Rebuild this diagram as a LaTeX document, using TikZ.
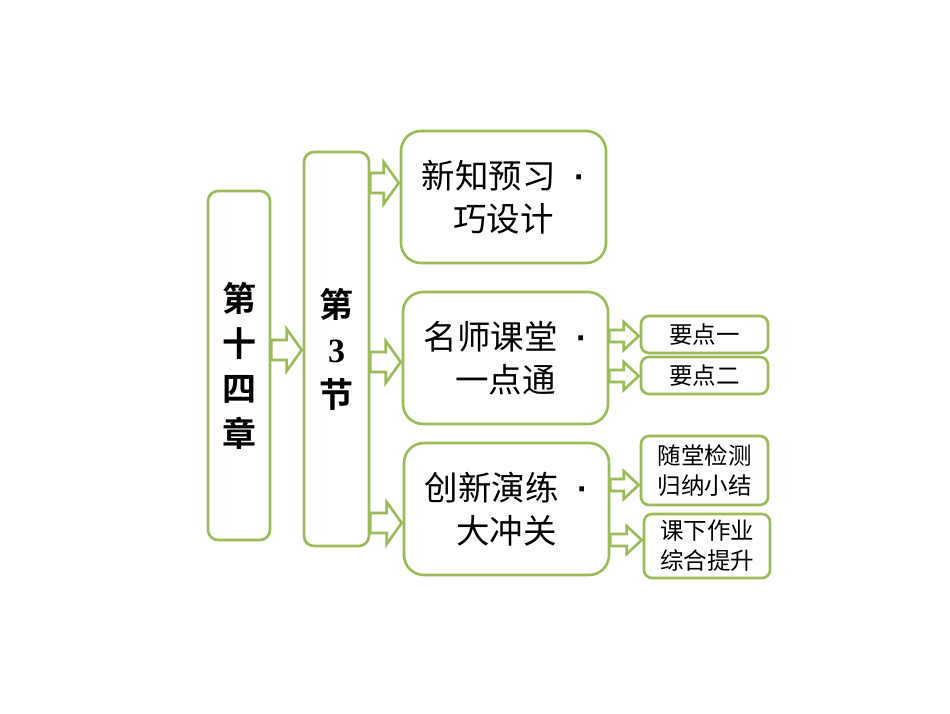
\documentclass[tikz,border=0pt]{standalone}
\usepackage{fontspec}
\setmainfont{Noto Sans CJK SC}
\newfontfamily\cjkb{Noto Sans CJK SC Bold}
\newfontfamily\serifb{Liberation Serif}
\newfontfamily\latin{Liberation Sans}
\usetikzlibrary{calc}
\definecolor{lg}{HTML}{9BBB59}
\newcommand{\barrow}[6]{%
 \draw[arrowsty] let \p1=(#1.east), \p2=(#2.west), \n1={(713-#3)*1pt} in
 (\x1,\n1+#5) -- (\x2-#6,\n1+#5) -- (\x2-#6,\n1+#4) -- (\x2-1pt,\n1) --
 (\x2-#6,\n1-#4) -- (\x2-#6,\n1-#5) -- (\x1,\n1-#5) -- cycle;}
\newcommand{\mdot}{{\latin\ \ \bfseries ·}}
\begin{document}
\begin{tikzpicture}[x=1pt,y=1pt,
  box/.style={draw=lg, line width=2.6pt, fill=white, align=center, inner sep=0pt},
  tall/.style={box, rounded corners=10pt, font=\cjkb\fontsize{34}{45}\selectfont},
  big/.style={box, rounded corners=20pt, minimum width=205pt, minimum height=132pt, font=\fontsize{33.5}{43}\selectfont},
  small/.style={box, rounded corners=8pt, minimum width=127pt, font=\fontsize{23.5}{30}\selectfont},
  arrowsty/.style={draw=lg, line width=2.6pt, fill=white, line join=miter}]
\useasboundingbox (0,0) rectangle (950,713);
\fill[white] (0,0) rectangle (950,713);
\node[tall, minimum width=62pt, minimum height=349pt] (n14) at (239,347.5) {第\\十\\四\\章};
\node[tall, minimum width=65pt, minimum height=394pt] (n3) at (336.5,364) {第\\{\serifb\bfseries 3}\\节};
\node[big] (xz) at (503.5,516) {新知预习\mdot\\巧设计};
\node[big] (ms) at (505.5,355) {名师课堂\mdot\\一点通};
\node[big] (cx) at (506.5,204) {创新演练\mdot\\大冲关};
\node[small, minimum height=37pt] (yd1) at (704.5,378.5) {要点一};
\node[small, minimum height=37pt] (yd2) at (704.5,337.5) {要点二};
\node[small, minimum height=69pt] (st) at (704.5,242.5) {随堂检测\\归纳小结};
\node[small, minimum width=126pt, minimum height=64pt] (kx) at (707,167) {课下作业\\综合提升};
\barrow{n14}{n3}{350}{21pt}{10pt}{16pt}
\barrow{n3}{xz}{183}{21pt}{10pt}{16pt}
\barrow{n3}{ms}{362}{21pt}{10pt}{16pt}
\barrow{n3}{cx}{523}{21pt}{10pt}{16pt}
\barrow{ms}{yd1}{336}{14pt}{6pt}{16pt}
\barrow{ms}{yd2}{376}{14pt}{6pt}{16pt}
\barrow{cx}{st}{485}{14pt}{6pt}{16pt}
\barrow{cx}{kx}{540}{14pt}{6pt}{16pt}
\end{tikzpicture}
\end{document}
